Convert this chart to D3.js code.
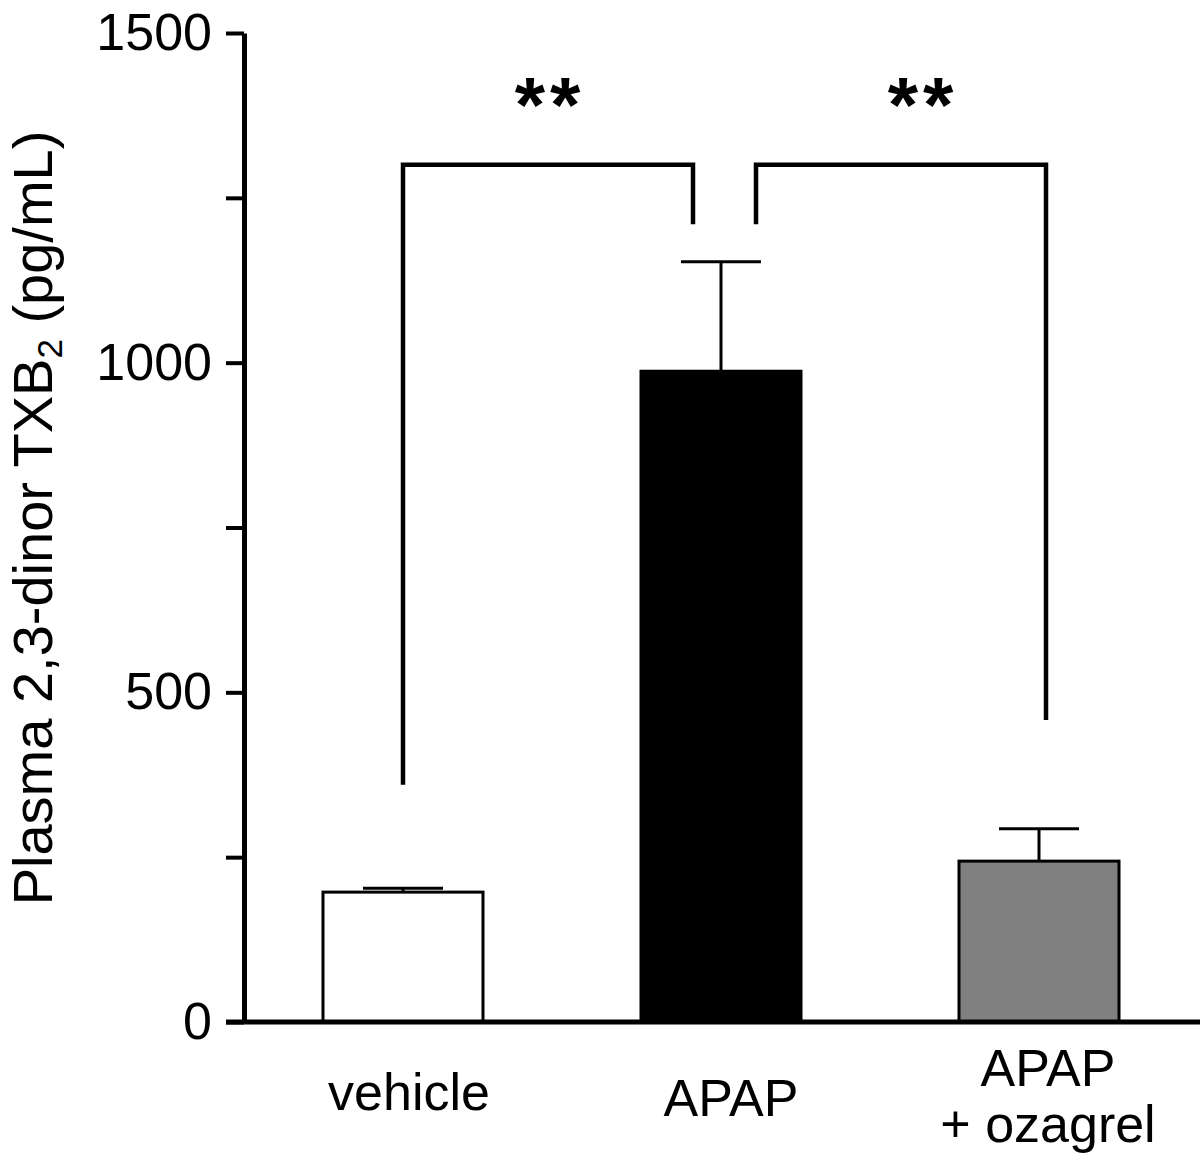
<!DOCTYPE html>
<html><head><meta charset="utf-8">
<script src="https://cdn.jsdelivr.net/npm/d3@7"></script>
<style>body{margin:0;background:#fff}svg{display:block}text{font-family:"Liberation Sans",Arial,Helvetica,sans-serif}</style>
</head><body>
<script>
const categories = ["vehicle", "APAP", "APAP + ozagrel"];
const labelLines = [["vehicle"], ["APAP"], ["APAP", "+ ozagrel"]];
const means = [197, 987, 244];
const sems = [6, 166, 49];
const fills = ["#ffffff", "#000000", "#808080"];
const yTicks = [0, 250, 500, 750, 1000, 1250, 1500];
const yLabelTicks = [0, 500, 1000, 1500];
// significance brackets
const bracketFrom = [0, 1];
const bracketTo = [1, 2];
const bracketTop = [1300, 1300];
const bracketLeftEnd = [360, 1210];
const bracketRightEnd = [1210, 458];
const bracketLabels = ["**", "**"];

const W = 1200, H = 1165;
const svg = d3.select("body").append("svg").attr("width", W).attr("height", H);
const y = d3.scaleLinear().domain([0, 1500]).range([1022, 33]);
const x = d3.scalePoint().domain(categories).range([403, 1039]);
const barW = 160, capW = 80, axisX = 244;

// bars
svg.selectAll("rect.bar").data(categories).join("rect")
  .attr("x", d => x(d) - barW / 2)
  .attr("y", (d, i) => y(means[i]))
  .attr("width", barW)
  .attr("height", (d, i) => y(0) - y(means[i]))
  .attr("fill", (d, i) => fills[i])
  .attr("stroke", "#000").attr("stroke-width", 3);

// error bars
const eg = svg.append("g").attr("stroke", "#000").attr("stroke-width", 3);
categories.forEach((c, i) => {
  eg.append("line").attr("x1", x(c)).attr("x2", x(c)).attr("y1", y(means[i])).attr("y2", y(means[i] + sems[i]));
  eg.append("line").attr("x1", x(c) - capW / 2).attr("x2", x(c) + capW / 2).attr("y1", y(means[i] + sems[i])).attr("y2", y(means[i] + sems[i]));
});

// y axis
const yAxis = d3.axisLeft(y).tickValues(yTicks).tickSize(18).tickSizeOuter(0).tickPadding(14)
  .tickFormat(d => yLabelTicks.includes(d) ? String(d) : "");
const ga = svg.append("g").attr("transform", `translate(${axisX},0)`).call(yAxis);
ga.select(".domain").attr("stroke-width", 5);
ga.selectAll(".tick line").attr("stroke-width", 4);
ga.selectAll(".tick text").attr("font-size", 52).attr("fill", "#000").attr("font-family", "Liberation Sans, Arial, sans-serif");

// x axis line
svg.append("line").attr("x1", axisX - 18).attr("x2", W).attr("y1", y(0)).attr("y2", y(0))
  .attr("stroke", "#000").attr("stroke-width", 5);

// x labels
const lbl = svg.append("g").attr("font-size", 52).attr("text-anchor", "middle").attr("fill", "#000");
const baseY = [[1110], [1116], [1086, 1142]];
const offs = [6, 10, 9];
labelLines.forEach((lines, i) => {
  lines.forEach((t, j) => {
    lbl.append("text").attr("x", x(categories[i]) + offs[i]).attr("y", baseY[i][j]).text(t);
  });
});

// brackets
const bg = svg.append("g").attr("fill", "none").attr("stroke", "#000").attr("stroke-width", 4.5);
bracketFrom.forEach((f, k) => {
  const xa = k === 1 ? x(categories[f]) + 35 : x(categories[f]);
  const xb = k === 0 ? x(categories[bracketTo[k]]) - 28 : x(categories[bracketTo[k]]) + 7;
  bg.append("path").attr("d",
    `M${xa},${y(bracketLeftEnd[k])}V${y(bracketTop[k])}H${xb}V${y(bracketRightEnd[k])}`);
  svg.append("text").attr("x", k === 0 ? (xa + xb) / 2 + 2 : (xa + xb) / 2 + 22).attr("y", 132)
    .attr("text-anchor", "middle").attr("font-size", 78).attr("font-weight", "bold")
    .attr("letter-spacing", 5).text(bracketLabels[k]);
});

// y title
const tt = svg.append("text").attr("transform", `translate(52,${518}) rotate(-90)`)
  .attr("text-anchor", "middle").attr("font-size", 56).attr("fill", "#000");
tt.append("tspan").text("Plasma 2,3-dinor TXB");
tt.append("tspan").attr("font-size", 35).attr("dy", 10).text("2");
tt.append("tspan").attr("dy", -10).text(" (pg/mL)");
</script>
</body></html>
